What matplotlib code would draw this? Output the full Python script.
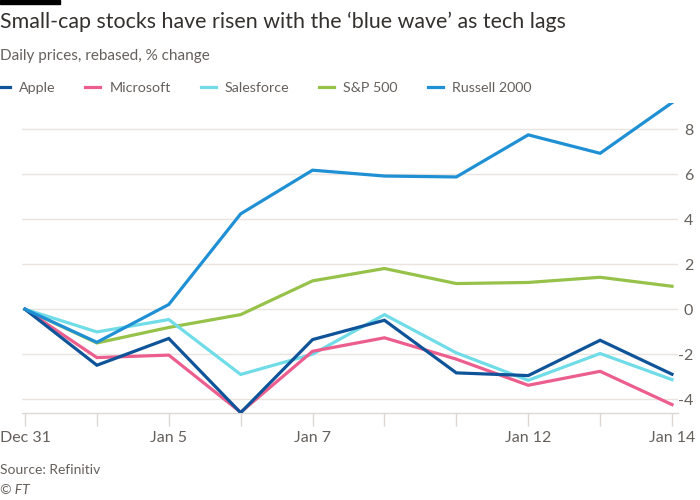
import matplotlib
matplotlib.use("Agg")
import matplotlib.pyplot as plt
import numpy as np
from matplotlib.lines import Line2D

plt.rcParams['font.family'] = ['Lato', 'DejaVu Sans']

# trading days, rebased % change since Dec 31
dates = ["Dec 31", "Jan 4", "Jan 5", "Jan 6", "Jan 7", "Jan 8",
         "Jan 11", "Jan 12", "Jan 13", "Jan 14"]
shown_labels = ["Dec 31", "Jan 5", "Jan 7", "Jan 12", "Jan 14"]

apple = [0, -2.49, -1.30, -4.60, -1.35, -0.49, -2.83, -2.95, -1.38, -2.89]
microsoft = [0, -2.15, -2.04, -4.58, -1.87, -1.27, -2.22, -3.38, -2.76, -4.24]
salesforce = [0, -1.01, -0.46, -2.90, -2.00, -0.24, -1.94, -3.16, -1.97, -3.13]
sp500 = [0, -1.50, -0.81, -0.24, 1.26, 1.81, 1.14, 1.19, 1.42, 1.02]
russell = [0, -1.47, 0.21, 4.24, 6.18, 5.92, 5.88, 7.75, 6.93, 9.18]

series_names = ["Apple", "Microsoft", "Salesforce", "S&P 500", "Russell 2000"]
series_colors = ["#0f5499", "#eb5e8d", "#70dce8", "#96c24a", "#1f90d4"]

TEXT = "#66605c"
GRID = "#e9e4df"

fig = plt.figure(figsize=(7, 5), dpi=100)
ax = fig.add_axes([22 / 700, 1 - 412.7 / 500, 656 / 700, 310 / 500])

x = np.arange(len(dates))
all_series = [apple, microsoft, salesforce, sp500, russell]
# draw so the Russell and Apple lines sit on top like the original
order = [3, 2, 1, 0, 4]
for i in order:
    ax.plot(x, all_series[i], color=series_colors[i], lw=2.3,
            solid_joinstyle='miter', zorder=3)

lo = min(min(s) for s in all_series)
hi = max(max(s) for s in all_series)
ax.set_ylim(lo, hi)
ax.set_xlim(-3 / 71.9, len(dates) - 1 + 6 / 71.9)

ax.set_yticks([-4, -2, 0, 2, 4, 6, 8])
ax.yaxis.tick_right()
ax.tick_params(axis='y', length=0, pad=11, labelsize=11.5, labelcolor=TEXT)
ax.set_yticklabels(["-4", "-2", "0", "2", "4", "6", "8"], ha='right')
ax.grid(axis='y', color=GRID, lw=1)
ax.set_axisbelow(True)

ax.set_xticks(x)
ax.set_xticklabels([d if d in shown_labels else "" for d in dates])
ax.tick_params(axis='x', length=9, width=1, color="#ddd8d3", pad=4,
               labelsize=11.5, labelcolor=TEXT)

for side in ["top", "left", "right"]:
    ax.spines[side].set_visible(False)
ax.spines["bottom"].set_color("#ddd8d3")
ax.spines["bottom"].set_linewidth(1)

# header
fig.patches.append(plt.Rectangle((0, 1 - 4 / 500), 60 / 700, 4 / 500,
                                 transform=fig.transFigure, color="black"))
fig.text(0, 1 - 22 / 500, "Small-cap stocks have risen with the \u2018blue wave\u2019 as tech lags",
         fontsize=15.4, color="#33302e", va='center', ha='left')
fig.text(0, 1 - 56 / 500, "Daily prices, rebased, % change",
         fontsize=11, color=TEXT, va='center', ha='left')

handles = [Line2D([0], [0], color=c, lw=2.3) for c in series_colors]
fig.legend(handles, series_names, loc='center left', bbox_to_anchor=(-5 / 700, 1 - 88 / 500),
           ncol=5, frameon=False, handlelength=1.05, handletextpad=0.62,
           columnspacing=2.1, fontsize=10.3, labelcolor=TEXT,
           borderpad=0, borderaxespad=0)

fig.text(0, 1 - 470 / 500, "Source: Refinitiv", fontsize=10, color=TEXT,
         va='center', ha='left')
fig.text(0, 1 - 490 / 500, "\u00a9 FT", fontsize=10, color=TEXT,
         va='center', ha='left', style='italic')

fig.savefig("out.png", dpi=100, facecolor="white")
